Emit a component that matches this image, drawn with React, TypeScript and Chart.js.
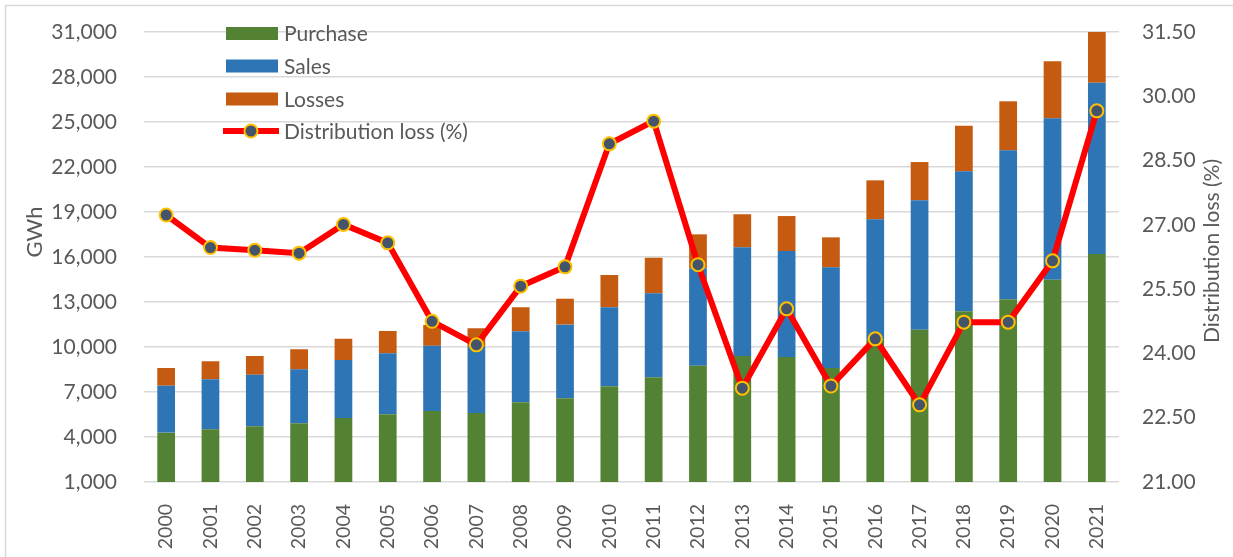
import React, { useEffect, useRef } from "react";
import { Chart, registerables } from "chart.js";

Chart.register(...registerables);

const years = ["2000","2001","2002","2003","2004","2005","2006","2007","2008","2009","2010","2011","2012","2013","2014","2015","2016","2017","2018","2019","2020","2021"];
const purchase = [4290,4510,4710,4910,5270,5510,5730,5600,6310,6580,7380,7980,8750,9400,9330,8600,10500,11150,12380,13180,14490,16200];
const sales = [3130,3340,3440,3600,3860,4070,4350,4420,4740,4910,5270,5600,6500,7250,7070,6710,8010,8630,9330,9930,10760,11420];
const losses = [1180,1200,1250,1340,1420,1490,1390,1230,1600,1730,2150,2370,2260,2200,2330,2000,2600,2550,3040,3270,3800,3380];
const lossPct = [27.23,26.47,26.41,26.34,27.01,26.58,24.75,24.2,25.57,26.02,28.89,29.42,26.07,23.19,25.04,23.24,24.34,22.8,24.73,24.73,26.16,29.66];

const leftMin = 1000;
const leftMax = 31000;
const leftStep = 3000;
const rightMin = 21;
const rightMax = 31.5;
const rightStep = 1.5;

const FONT = "Lato";
const TEXT = "#595959";
const GREEN = "#548235";
const BLUE = "#2E75B6";
const ORANGE = "#C55A11";
const RED = "#FF0000";
const MARK = "#44546A";
const MARK_BORDER = "#FFC000";
const GRID = "#D9D9D9";

const framePlugin = {
  id: "frame",
  beforeDraw(chart: any) {
    const ctx = chart.ctx;
    ctx.save();
    ctx.fillStyle = "#ffffff";
    ctx.fillRect(0, 0, chart.width, chart.height);
    ctx.strokeStyle = GRID;
    ctx.lineWidth = 1.5;
    ctx.beginPath();
    ctx.moveTo(5.5, chart.height);
    ctx.lineTo(5.5, 5.5);
    ctx.lineTo(chart.width, 5.5);
    ctx.stroke();
    ctx.restore();
  },
};

const extrasPlugin = {
  id: "extras",
  afterDraw(chart: any) {
    const ctx = chart.ctx;
    ctx.save();
    ctx.fillStyle = TEXT;
    ctx.textAlign = "center";
    ctx.textBaseline = "middle";
    // axis titles
    ctx.save();
    ctx.translate(35, 232);
    ctx.rotate(-Math.PI / 2);
    ctx.font = `22px ${FONT}`;
    ctx.fillText("GWh", 0, 0);
    ctx.restore();
    ctx.save();
    ctx.translate(1212, 251);
    ctx.rotate(-Math.PI / 2);
    ctx.font = `21px ${FONT}`;
    ctx.fillText("Distribution loss (%)", 0, 0);
    ctx.restore();

    // legend
    const ds = chart.data.datasets;
    const centers = [33.5, 66, 99, 131];
    ctx.font = `21px ${FONT}`;
    ctx.textAlign = "left";
    ds.forEach((d: any, i: number) => {
      const cy = centers[i];
      if (d.type === "line") {
        ctx.strokeStyle = d.borderColor;
        ctx.lineWidth = 6;
        ctx.beginPath();
        ctx.moveTo(223, cy);
        ctx.lineTo(279, cy);
        ctx.stroke();
        ctx.beginPath();
        ctx.arc(251, cy, 6.5, 0, Math.PI * 2);
        ctx.fillStyle = d.pointBackgroundColor;
        ctx.fill();
        ctx.lineWidth = 2;
        ctx.strokeStyle = d.pointBorderColor;
        ctx.stroke();
      } else {
        ctx.fillStyle = d.backgroundColor;
        ctx.fillRect(226, cy - 6.5, 52, 13);
      }
      ctx.fillStyle = TEXT;
      ctx.fillText(d.label, 284, cy + 1);
    });
    ctx.restore();
  },
};

export default function App() {
  const ref = useRef<HTMLCanvasElement>(null);
  useEffect(() => {
    document.body.style.margin = "0";
    const chart = new Chart(ref.current as HTMLCanvasElement, {
      type: "bar",
      data: {
        labels: years,
        datasets: [
          { type: "bar", label: "Purchase", data: purchase, backgroundColor: GREEN, yAxisID: "y", order: 2, barPercentage: 0.4, categoryPercentage: 1 } as any,
          { type: "bar", label: "Sales", data: sales, backgroundColor: BLUE, yAxisID: "y", order: 2, barPercentage: 0.4, categoryPercentage: 1 } as any,
          { type: "bar", label: "Losses", data: losses, backgroundColor: ORANGE, yAxisID: "y", order: 2, barPercentage: 0.4, categoryPercentage: 1 } as any,
          {
            type: "line",
            label: "Distribution loss (%)",
            data: lossPct,
            yAxisID: "y1",
            borderColor: RED,
            borderWidth: 6,
            pointRadius: 6.5,
            pointBackgroundColor: MARK,
            pointBorderColor: MARK_BORDER,
            pointBorderWidth: 2,
            tension: 0,
            order: 1,
          } as any,
        ],
      },
      options: {
        animation: false,
        responsive: false,
        layout: { padding: { top: 32, left: 0, right: 0, bottom: 0 } },
        plugins: { legend: { display: false }, tooltip: { enabled: false } },
        scales: {
          x: {
            stacked: true,
            grid: { display: false },
            border: { display: false },
            ticks: {
              autoSkip: false,
              minRotation: 90,
              maxRotation: 90,
              padding: 14,
              color: TEXT,
              font: { family: FONT, size: 19.5 },
            },
            afterFit: (s: any) => { s.height = 75; },
          },
          y: {
            stacked: true,
            position: "left",
            min: leftMin,
            max: leftMax,
            grid: { color: GRID, lineWidth: 1.5, drawTicks: false },
            border: { display: false },
            ticks: {
              stepSize: leftStep,
              padding: 27,
              color: TEXT,
              font: { family: FONT, size: 21 },
              callback: (v: any) => Number(v).toLocaleString("en-US"),
            },
            afterFit: (s: any) => { s.width = 144; s.paddingTop = 0; s.paddingBottom = 0; },
          },
          y1: {
            position: "right",
            min: rightMin,
            max: rightMax,
            grid: { drawOnChartArea: false, drawTicks: false },
            border: { display: false },
            ticks: {
              stepSize: rightStep,
              padding: 23,
              color: TEXT,
              font: { family: FONT, size: 21 },
              callback: (v: any) => Number(v).toFixed(2),
            },
            afterFit: (s: any) => { s.width = 114; s.paddingTop = 0; s.paddingBottom = 0; },
          },
        },
      },
      plugins: [framePlugin, extrasPlugin],
    });
    return () => chart.destroy();
  }, []);
  return (
    <div style={{ width: 1233, height: 557, position: "relative" }}>
      <canvas ref={ref} width={1233} height={557} style={{ display: "block" }} />
    </div>
  );
}
